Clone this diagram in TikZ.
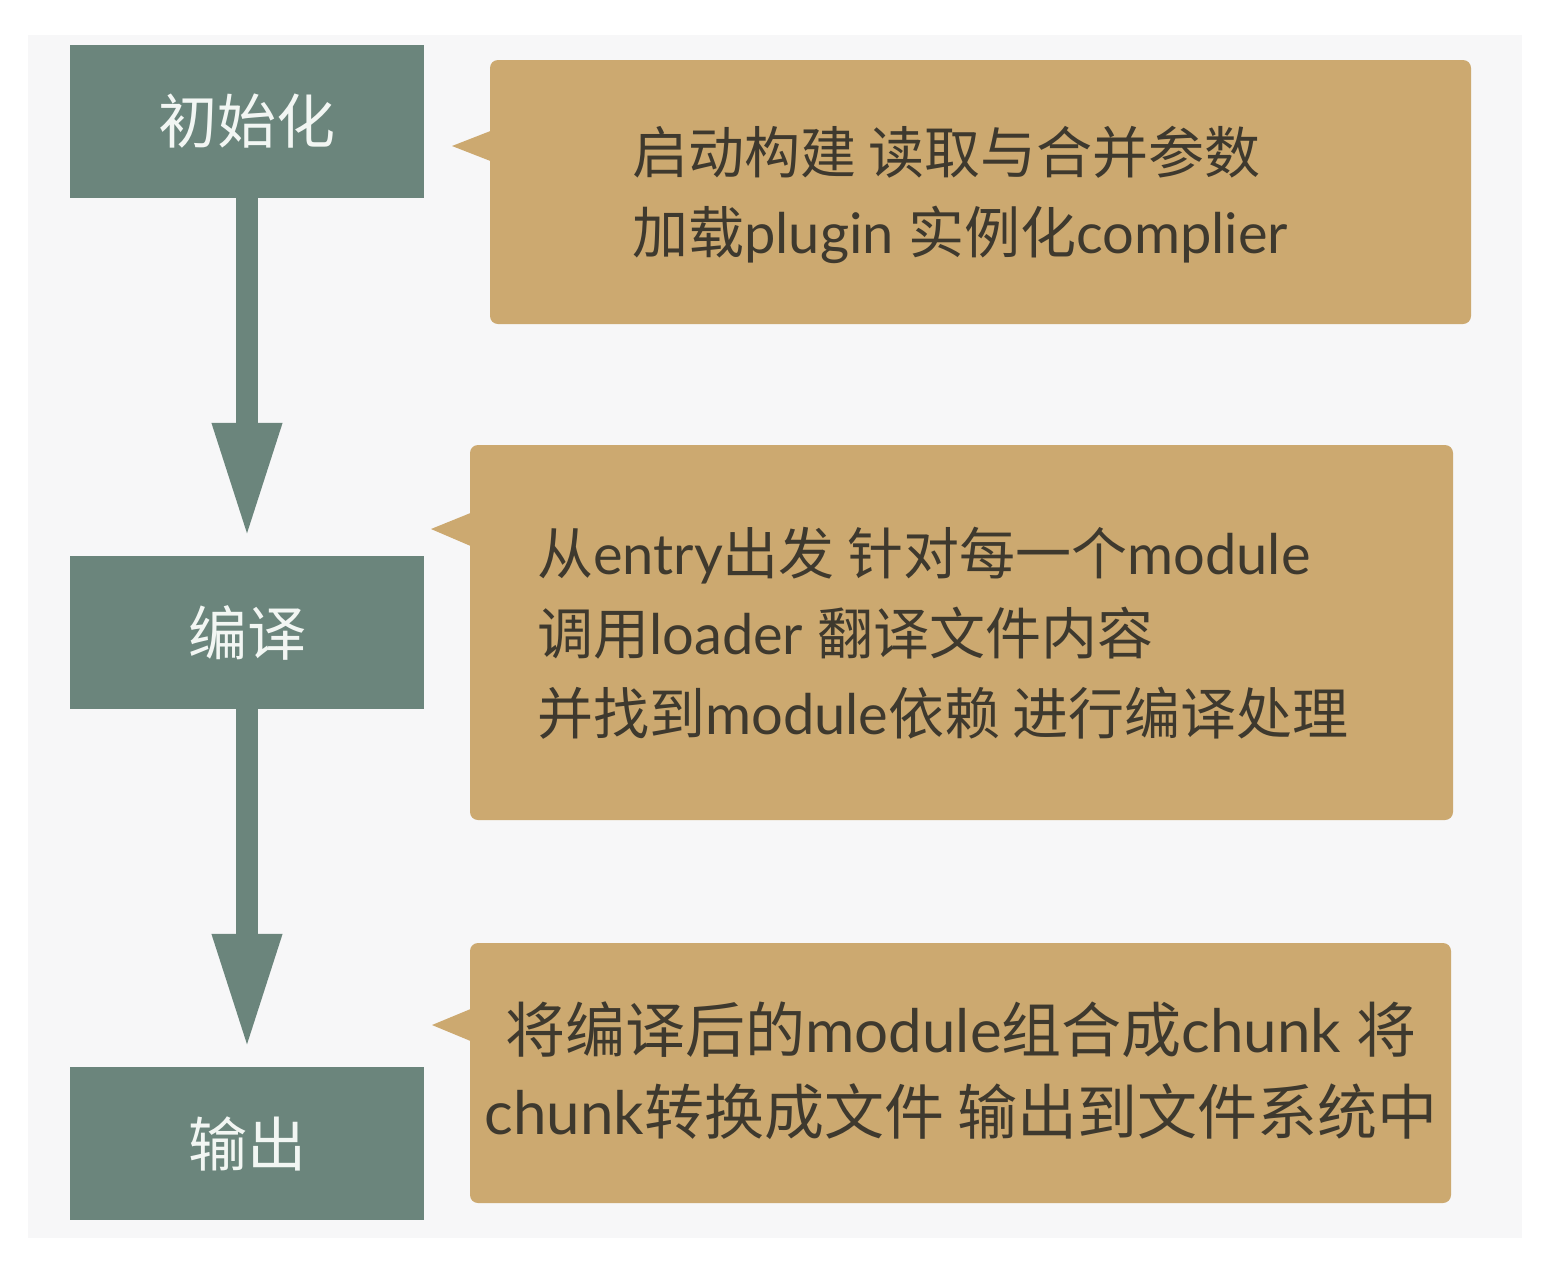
\documentclass[tikz,border=0pt]{standalone}
\usepackage{fontspec}
\setmainfont{Lato}
\newfontfamily\cjk{Noto Sans CJK SC}
\newcommand\zh[1]{{\cjk #1}}
\usetikzlibrary{arrows.meta}

\definecolor{pagebg}{RGB}{247,247,248}
\definecolor{stagegreen}{RGB}{107,133,124}
\definecolor{notetan}{RGB}{204,169,112}
\definecolor{notetext}{RGB}{62,57,46}
\definecolor{labelwhite}{RGB}{242,246,243}

\tikzset{
  stagebox/.style={rectangle, fill=stagegreen, minimum width=354pt, minimum height=153pt,
    inner sep=0pt, text=labelwhite, font=\cjk\fontsize{59}{70}\selectfont},
  notebox/.style={rectangle, rounded corners=8pt, fill=notetan, inner sep=0pt},
  notetextstyle/.style={text=notetext, inner sep=0pt, font=\fontsize{56}{80}\selectfont},
  flowarrow/.style={draw=stagegreen, line width=22pt,
    -{Triangle[length=116pt, width=64pt]}, shorten >=17pt},
}

\begin{document}
\begin{tikzpicture}[x=1pt, y=-1pt]
  \useasboundingbox (0,0) rectangle (1550,1270);
  \fill[white] (0,0) rectangle (1550,1270);
  \fill[pagebg] (28,35) rectangle (1522,1238);

  % stages
  \node[stagebox] (init)    at (247,121.5)  {初始化};
  \node[stagebox] (compile) at (247,632.5)  {编译};
  \node[stagebox] (emit)    at (247,1143.5) {输出};

  % notes with their pointers
  \node[notebox, minimum width=981pt, minimum height=264pt] (n1) at (980.5,192) {};
  \fill[notetan] (493,130) -- (452,146) -- (493,162) -- cycle;
  \node[notebox, minimum width=983pt, minimum height=375pt] (n2) at (961.5,632.5) {};
  \fill[notetan] (473,512) -- (431,529) -- (473,547) -- cycle;
  \node[notebox, minimum width=981pt, minimum height=260pt] (n3) at (960.5,1073) {};
  \fill[notetan] (473,1008) -- (432,1025) -- (473,1042) -- cycle;

  \node[notetextstyle, align=left, anchor=west] (t1) at (632,195)
    {\zh{启动构建 读取与合并参数}\\ \zh{加载}plugin \zh{实例化}complier};
  \node[notetextstyle, align=left, anchor=west] (t2) at (537,633)
    {\zh{从}entry\zh{出发 针对每一个}module\\
     \zh{调用}loader \zh{翻译文件内容}\\
     \zh{并找到}module\zh{依赖 进行编译处理}};
  \node[notetextstyle, font=\fontsize{60}{82}\selectfont, align=center] (t3) at (961,1071)
    {\zh{将编译后的}module\zh{组合成}chunk \zh{将}\\
     chunk\zh{转换成文件 输出到文件系统中}};

  % flow arrows
  \draw[flowarrow] (init.south) -- (compile.north);
  \draw[flowarrow] (compile.south) -- (emit.north);
\end{tikzpicture}
\end{document}
